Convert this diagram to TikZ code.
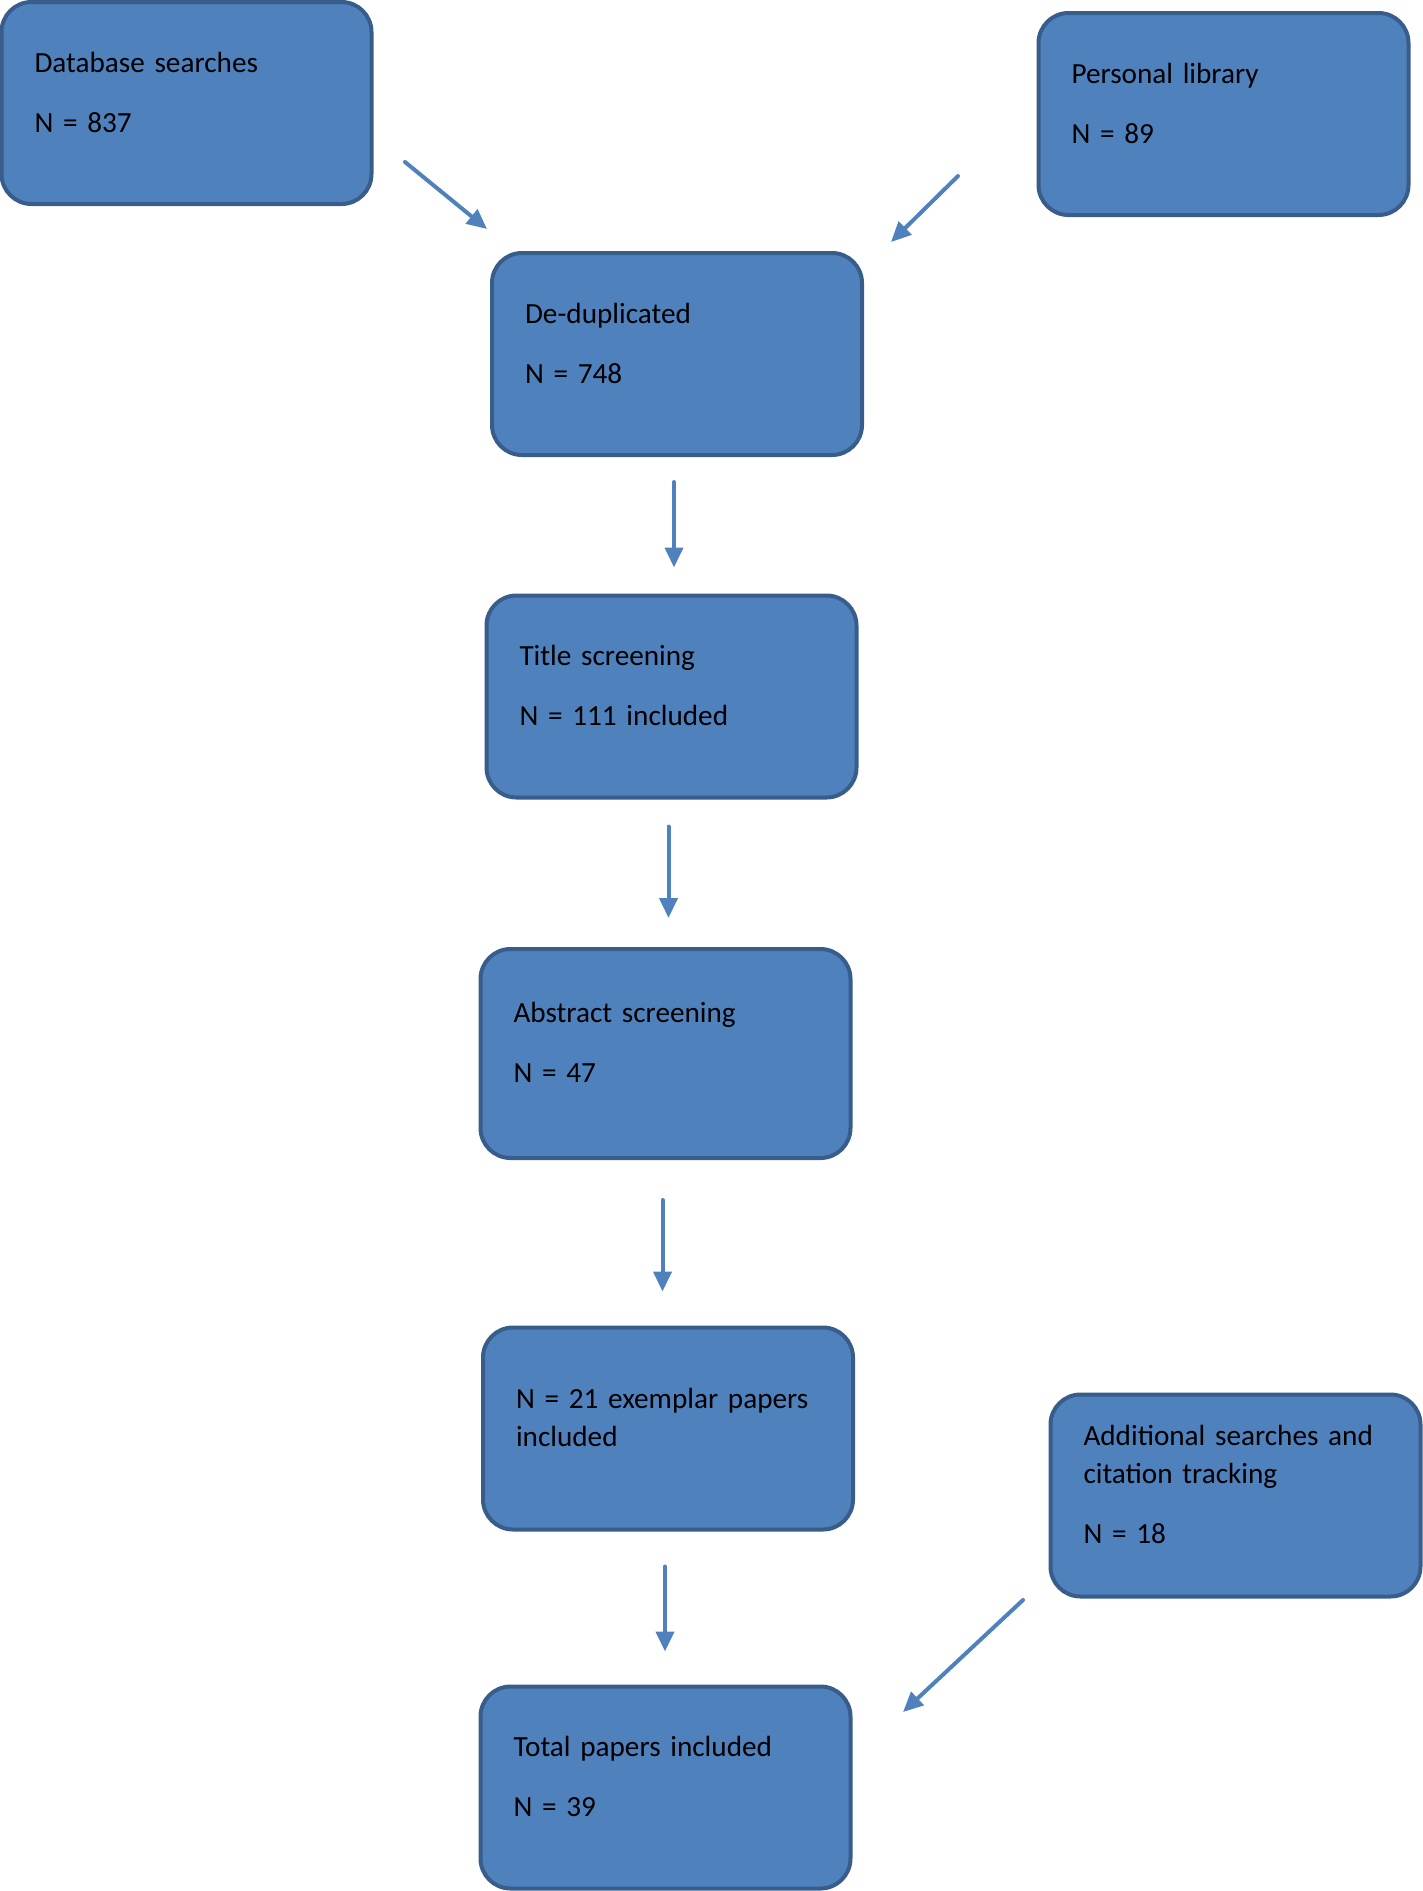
\documentclass[tikz,border=0pt]{standalone}
\usepackage{fontspec}
\setmainfont{Carlito}
\usetikzlibrary{arrows.meta}
\definecolor{boxfill}{HTML}{4F81BD}
\definecolor{boxline}{HTML}{385D8A}
\definecolor{arrowblue}{HTML}{4F81BD}
\tikzset{
    stage/.style={
        rectangle, rounded corners=15pt, fill=boxfill, draw=boxline,
        line width=2pt, minimum width=185pt, minimum height=101pt,
        text width=152pt, align=left, inner xsep=16.5pt,
        font=\fontsize{14.6}{19}\selectfont,
        execute at end node={\par\vspace*{11pt}}
    },
    flow/.style={
        arrowblue, line width=2pt, -{Triangle[length=10pt,width=9pt]}
    }
}

\begin{document}
\begin{tikzpicture}[x=0.5pt,y=-0.5pt,line cap=round,line join=round]

\useasboundingbox (0,0) rectangle (1423,1891);

% the boxes, top to bottom
\node[stage] (db)    at (186.5,103)   {Database searches\\[11pt]N = 837};
\node[stage] (lib)   at (1223.5,114)  {Personal library\\[11pt]N = 89};
\node[stage] (dedup) at (677,354)     {De-duplicated\\[11pt]N = 748};
\node[stage] (title) at (671.5,696.5) {Title screening\\[11pt]N = 111 included};
\node[stage, minimum height=104.5pt] (abs) at (665.5,1053.5) {Abstract screening\\[11pt]N = 47};
\node[stage] (exem)  at (668,1428.5)  {N = 21 exemplar papers included};
\node[stage] (add)   at (1235.5,1495.5) {Additional searches and citation tracking\\[11pt]N = 18};
\node[stage] (total) at (665.5,1787.5) {Total papers included\\[11pt]N = 39};

% free ends of the slanted arrows
\coordinate (dbout)   at (405,162);
\coordinate (dbin)    at (487,229);
\coordinate (libout)  at (958,176);
\coordinate (libin)   at (891,242);
\coordinate (addout)  at (1023,1600);
\coordinate (addin)   at (903,1712);

% merging arrows
\draw[flow] (dbout) -- (dbin);
\draw[flow] (libout) -- (libin);
\draw[flow] (addout) -- (addin);

% straight arrows down the chain
\foreach \from/\to/\s/\e in {dedup/title/12.5pt/13pt, title/abs/13.5pt/14.5pt,
                             abs/exem/20pt/17pt, exem/total/17.5pt/16.5pt} {
  \draw[flow, shorten <=\s, shorten >=\e] ([xshift=-1.5pt]\from.south) -- ([xshift=-1.5pt]\from.south |- \to.north);
}

\end{tikzpicture}
\end{document}
